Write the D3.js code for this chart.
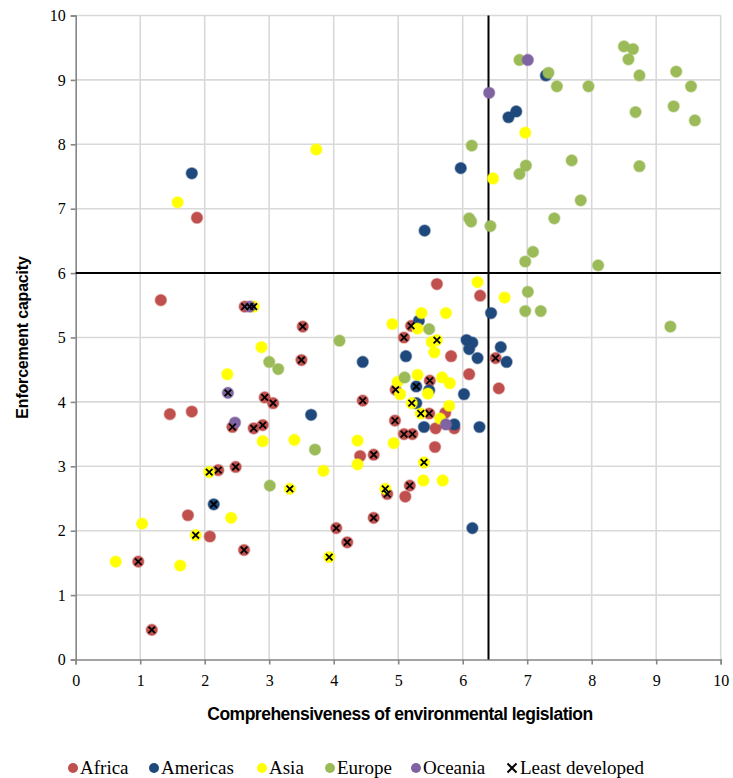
<!DOCTYPE html>
<html><head><meta charset="utf-8">
<script src="https://cdn.jsdelivr.net/npm/d3@7"></script>
<style>body{margin:0;background:#fff}svg{display:block}</style>
</head><body><svg id="c" width="733" height="778"></svg>
<script>
// [x, y, leastDeveloped]
const africa = [
 [1.88,6.86,0],[1.32,5.58,0],[1.46,3.81,0],[1.80,3.85,0],[1.74,2.24,0],[2.08,1.91,0],
 [5.60,5.83,0],[6.27,5.65,0],[5.82,4.71,0],[6.10,4.43,0],[6.56,4.21,0],[5.73,3.83,0],
 [5.87,3.59,0],[5.58,3.59,0],[5.57,3.30,0],[4.41,3.16,0],[5.11,2.53,0],
 [2.62,5.48,1],[3.52,5.17,1],[3.50,4.65,1],[2.93,4.07,1],[3.06,3.98,1],[2.43,3.61,1],
 [2.76,3.59,1],[2.90,3.64,1],[2.48,2.99,1],[2.21,2.94,1],[2.61,1.70,1],[0.97,1.52,1],
 [1.18,0.46,1],[5.20,5.18,1],[5.09,5.00,1],[5.49,4.33,1],[4.96,4.19,1],[4.45,4.02,1],
 [5.48,3.82,1],[4.95,3.71,1],[5.09,3.50,1],[5.22,3.50,1],[4.62,3.18,1],[5.18,2.70,1],
 [4.83,2.57,1],[4.62,2.20,1],[4.04,2.04,1],[4.21,1.82,1],[6.51,4.68,1]
];
const americas = [
 [1.80,7.55,0],[7.29,9.07,0],[6.83,8.51,0],[6.71,8.42,0],[5.97,7.63,0],[5.41,6.66,0],
 [6.44,5.38,0],[5.32,5.26,0],[6.06,4.96,0],[6.15,4.92,0],[6.10,4.82,0],[6.23,4.68,0],
 [6.59,4.85,0],[6.68,4.62,0],[5.12,4.71,0],[4.45,4.62,0],[6.02,4.12,0],[5.48,4.18,0],
 [5.28,3.98,0],[5.87,3.65,0],[5.40,3.61,0],[6.26,3.61,0],[3.65,3.80,0],[6.15,2.04,0],
 [5.28,4.24,1],[2.14,2.41,1]
];
const asia = [
 [1.58,7.10,0],[3.73,7.92,0],[6.97,8.18,0],[6.47,7.47,0],[6.23,5.86,0],[6.65,5.62,0],
 [5.36,5.38,0],[5.74,5.38,0],[4.91,5.21,0],[5.30,5.14,0],[5.52,4.93,0],[5.56,4.77,0],
 [2.88,4.85,0],[2.35,4.43,0],[5.30,4.42,0],[4.99,4.31,0],[5.68,4.38,0],[5.80,4.29,0],
 [5.03,4.12,0],[5.46,4.13,0],[5.79,3.94,0],[5.65,3.74,0],[2.90,3.39,0],[3.39,3.41,0],
 [4.37,3.40,0],[4.93,3.36,0],[4.37,3.03,0],[3.84,2.93,0],[5.39,2.78,0],[5.69,2.78,0],
 [2.41,2.20,0],[1.03,2.11,0],[0.62,1.52,0],[1.62,1.46,0],
 [2.76,5.48,1],[5.60,4.96,1],[5.21,3.98,1],[5.35,3.82,1],[5.40,3.06,1],[4.80,2.65,1],
 [3.93,1.59,1],[2.07,2.91,1],[3.32,2.65,1],[1.86,1.93,1]
];
const europe = [
 [6.88,9.31,0],[7.33,9.11,0],[8.50,9.52,0],[8.64,9.48,0],[8.57,9.32,0],[8.74,9.07,0],
 [9.31,9.13,0],[7.46,8.90,0],[7.95,8.90,0],[9.54,8.90,0],[9.27,8.59,0],[8.68,8.50,0],
 [9.60,8.37,0],[6.14,7.98,0],[6.98,7.67,0],[6.88,7.54,0],[7.69,7.75,0],[8.74,7.66,0],
 [7.83,7.13,0],[6.10,6.85,0],[6.13,6.80,0],[7.42,6.85,0],[6.43,6.73,0],[7.09,6.33,0],
 [6.97,6.18,0],[8.10,6.12,0],[7.01,5.71,0],[6.97,5.41,0],[7.21,5.41,0],[9.22,5.17,0],
 [5.48,5.13,0],[4.09,4.95,0],[3.00,4.62,0],[3.14,4.51,0],[5.10,4.38,0],[3.71,3.26,0],
 [3.01,2.70,0]
];
const oceania = [
 [7.01,9.31,0],[6.41,8.80,0],[5.74,3.65,0],[2.47,3.68,0],[2.70,5.48,1],[2.36,4.14,1]
];
const regionNames = ["Africa","Americas","Asia","Europe","Oceania"];
const regionColors = ["#c0504d","#1f497d","#ffff00","#9bbb59","#8064a2"];
const ldLabel = "Least developed";
const xTicks = [0,1,2,3,4,5,6,7,8,9,10];
const yTicks = [0,1,2,3,4,5,6,7,8,9,10];
const xTitle = "Comprehensiveness of environmental legislation";
const yTitle = "Enforcement capacity";
const refX = 6.4, refY = 6;

const series = [africa, americas, asia, europe, oceania];
const svg = d3.select("#c");
const L = 75.7, R = 720.7, T = 15.5, B = 659.5;
const x = d3.scaleLinear().domain([0,10]).range([L,R]);
const y = d3.scaleLinear().domain([0,10]).range([B,T]);

// gridlines
const grid = svg.append("g");
grid.selectAll("line.v").data(xTicks.filter(d=>d>0)).join("line")
  .attr("x1",d=>x(d)).attr("x2",d=>x(d)).attr("y1",T).attr("y2",B)
  .attr("stroke","#d9d9d9").attr("stroke-width",1.6);
grid.selectAll("line.h").data(yTicks.filter(d=>d>0)).join("line")
  .attr("y1",d=>y(d)).attr("y2",d=>y(d)).attr("x1",L).attr("x2",R)
  .attr("stroke","#d9d9d9").attr("stroke-width",1.6);

// axes
const ax = svg.append("g").attr("transform",`translate(0,${B})`)
  .call(d3.axisBottom(x).tickValues(xTicks).tickSize(5).tickPadding(10).tickFormat(d3.format("d")));
const ay = svg.append("g").attr("transform",`translate(${L},0)`)
  .call(d3.axisLeft(y).tickValues(yTicks).tickSize(5).tickPadding(5).tickFormat(d3.format("d")));
[ax,ay].forEach(g=>{
  g.selectAll("path.domain").attr("stroke","#868686").attr("stroke-width",1.6);
  g.selectAll(".tick line").attr("stroke","#868686").attr("stroke-width",1.6);
  g.selectAll(".tick text").attr("font-family","'Liberation Serif', 'Times New Roman', serif")
    .attr("font-size",16).attr("fill","#000");
});

// reference lines
svg.append("line").attr("x1",x(refX)).attr("x2",x(refX)).attr("y1",y(0)).attr("y2",y(10))
  .attr("stroke","#000").attr("stroke-width",2);
svg.append("line").attr("x1",x(0)).attr("x2",x(10)).attr("y1",y(refY)).attr("y2",y(refY))
  .attr("stroke","#000").attr("stroke-width",2);

// points
const r = 5.6;
series.forEach((s,i)=>{
  svg.append("g").selectAll("circle").data(s).join("circle")
    .attr("cx",d=>x(d[0])).attr("cy",d=>y(d[1])).attr("r",r)
    .attr("fill",regionColors[i]).attr("stroke",regionColors[i]).attr("stroke-opacity",0.45).attr("stroke-width",1.5);
});
const xs = 3.3;
const ldPts = series.flatMap(s=>s.filter(d=>d[2]===1));
const xg = svg.append("g");
ldPts.forEach(d=>{
  const cx = x(d[0]), cy = y(d[1]);
  xg.append("path").attr("d",`M${cx-xs},${cy-xs}L${cx+xs},${cy+xs}M${cx-xs},${cy+xs}L${cx+xs},${cy-xs}`)
    .attr("stroke","#000").attr("stroke-width",1.8);
});

// titles
svg.append("text").attr("x",400).attr("y",720).attr("text-anchor","middle")
  .attr("font-family","'Liberation Sans', Arial, sans-serif").attr("font-weight","bold")
  .attr("font-size",17.5).attr("letter-spacing","-0.5").text(xTitle);
svg.append("text").attr("transform",`translate(28,${(T+B)/2}) rotate(-90)`).attr("text-anchor","middle")
  .attr("font-family","'Liberation Sans', Arial, sans-serif").attr("font-weight","bold")
  .attr("font-size",16).attr("letter-spacing","-0.2").text(yTitle);

// legend
const legY = 768;
const legX = [73, 154, 262, 330, 416, 512];
const lg = svg.append("g").attr("font-family","'Liberation Serif', 'Times New Roman', serif").attr("font-size",19);
regionNames.forEach((n,i)=>{
  lg.append("circle").attr("cx",legX[i]).attr("cy",legY).attr("r",5).attr("fill",regionColors[i]);
  lg.append("text").attr("x",legX[i]+7).attr("y",legY+6).text(n);
});
{
  const cx = legX[5], cy = legY, s=4.5;
  lg.append("path").attr("d",`M${cx-s},${cy-s}L${cx+s},${cy+s}M${cx-s},${cy+s}L${cx+s},${cy-s}`)
    .attr("stroke","#000").attr("stroke-width",2);
  lg.append("text").attr("x",cx+8).attr("y",legY+6).text(ldLabel);
}
</script></body></html>
